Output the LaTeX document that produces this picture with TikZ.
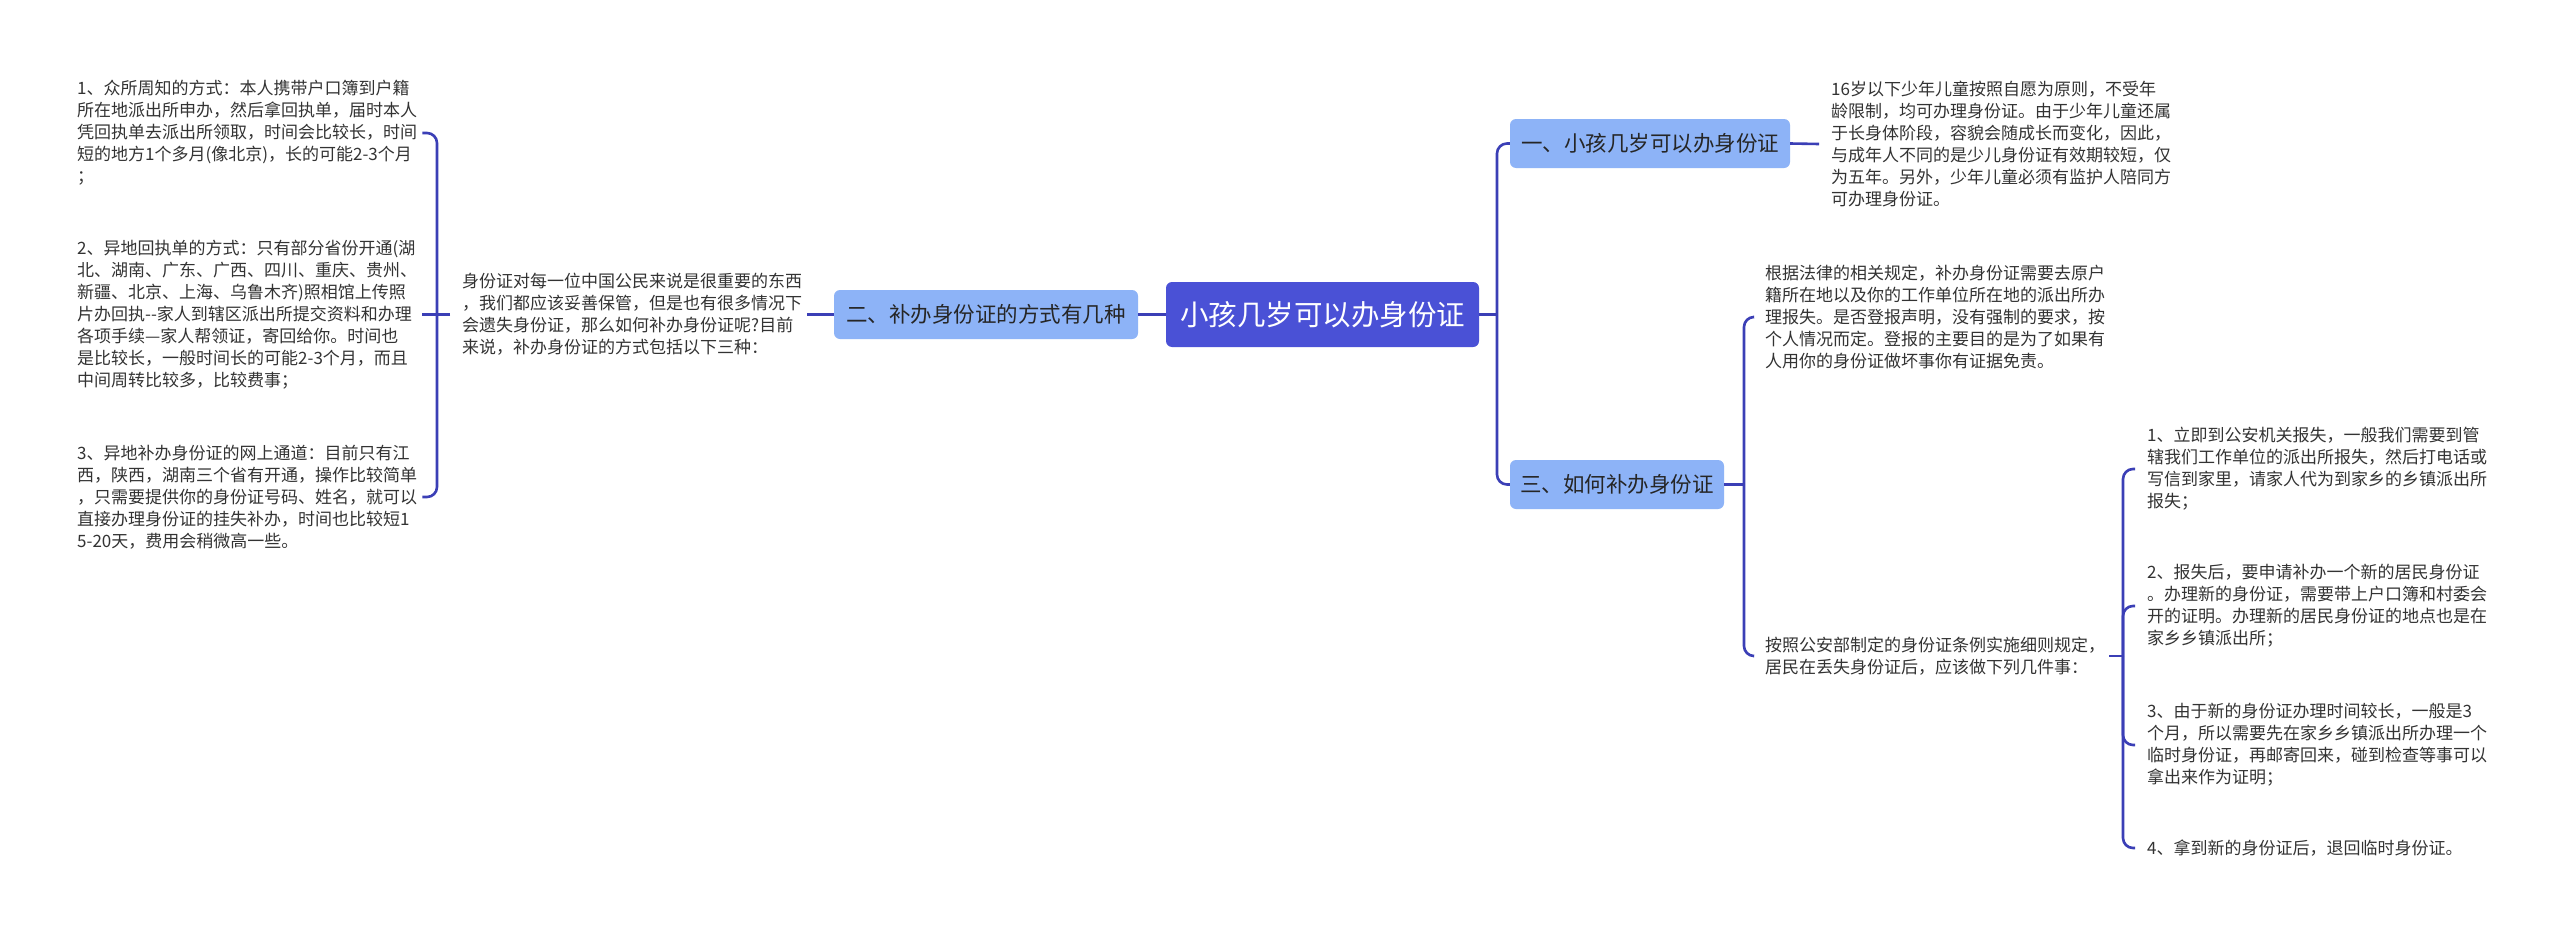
\documentclass[tikz,border=0pt]{standalone}
\usepackage{fontspec}
\newfontfamily\zh{Noto Sans CJK SC}
\definecolor{rootc}{HTML}{4A51D6}
\definecolor{subc}{HTML}{8DB3F7}
\definecolor{linec}{HTML}{3B3FB6}
\definecolor{textc}{HTML}{333333}
\begin{document}
\begin{tikzpicture}[x=1pt,y=-1pt,
  conn/.style={draw=linec, line width=2.6pt, rounded corners=10pt},
  root/.style={fill=rootc, text=white, rounded corners=6pt, font=\zh\fontsize{28.5}{34}\selectfont, minimum width=313pt, minimum height=65pt, inner sep=0pt},
  sub/.style={fill=subc, text=black!85, rounded corners=6pt, font=\zh\fontsize{21.5}{26}\selectfont, minimum height=49pt, inner sep=0pt},
  txt/.style={text=textc, font=\zh\fontsize{17}{22}\selectfont, align=left, inner xsep=12pt, inner ysep=2pt, anchor=west}
]
\fill[white] (0,0) rectangle (2560,937);
\useasboundingbox (0,0) rectangle (2560,937);

% main nodes
\node[root] (c) at (1322.5,314.5) {小孩几岁可以办身份证};
\node[sub, minimum width=280pt] (n1) at (1650,143.5) {一、小孩几岁可以办身份证};
\node[sub, minimum width=214pt] (n3) at (1617,484.5) {三、如何补办身份证};
\node[sub, minimum width=304pt] (n2) at (986,314.5) {二、补办身份证的方式有几种};

% right texts
\node[txt, text width=340pt] (r1) at (1819,144) {16岁以下少年儿童按照自愿为原则，不受年\\龄限制，均可办理身份证。由于少年儿童还属\\于长身体阶段，容貌会随成长而变化，因此，\\与成年人不同的是少儿身份证有效期较短，仅\\为五年。另外，少年儿童必须有监护人陪同方\\可办理身份证。};
\node[txt, text width=330pt] (tA) at (1753,317) {根据法律的相关规定，补办身份证需要去原户\\籍所在地以及你的工作单位所在地的派出所办\\理报失。是否登报声明，没有强制的要求，按\\个人情况而定。登报的主要目的是为了如果有\\人用你的身份证做坏事你有证据免责。};
\node[txt, text width=332pt] (tB) at (1753,656) {按照公安部制定的身份证条例实施细则规定，\\居民在丢失身份证后，应该做下列几件事：};
\node[txt, text width=340pt] (i1) at (2135,469) {1、立即到公安机关报失，一般我们需要到管\\辖我们工作单位的派出所报失，然后打电话或\\写信到家里，请家人代为到家乡的乡镇派出所\\报失；};
\node[txt, text width=340pt] (i2) at (2135,606) {2、报失后，要申请补办一个新的居民身份证\\。办理新的身份证，需要带上户口簿和村委会\\开的证明。办理新的居民身份证的地点也是在\\家乡乡镇派出所；};
\node[txt, text width=340pt] (i3) at (2135,745) {3、由于新的身份证办理时间较长，一般是3\\个月，所以需要先在家乡乡镇派出所办理一个\\临时身份证，再邮寄回来，碰到检查等事可以\\拿出来作为证明；};
\node[txt, text width=340pt] (i4) at (2135,848) {4、拿到新的身份证后，退回临时身份证。};

% left texts
\node[txt, text width=333pt] (t2) at (450,314.5) {身份证对每一位中国公民来说是很重要的东西\\，我们都应该妥善保管，但是也有很多情况下\\会遗失身份证，那么如何补办身份证呢?目前\\来说，补办身份证的方式包括以下三种：};
\node[txt, text width=333pt] (b1) at (65,133) {1、众所周知的方式：本人携带户口簿到户籍\\所在地派出所申办，然后拿回执单，届时本人\\凭回执单去派出所领取，时间会比较长，时间\\\mbox{短的地方1个多月(像北京)，长的可能2-3个月}\\；};
\node[txt, text width=333pt] (b2) at (65,314.5) {2、异地回执单的方式：只有部分省份开通(湖\\北、湖南、广东、广西、四川、重庆、贵州、\\新疆、北京、上海、乌鲁木齐)照相馆上传照\\\mbox{片办回执--家人到辖区派出所提交资料和办理}\\各项手续—家人帮领证，寄回给你。时间也\\\mbox{是比较长，一般时间长的可能2-3个月，而且}\\中间周转比较多，比较费事；};
\node[txt, text width=333pt] (b3) at (65,497) {3、异地补办身份证的网上通道：目前只有江\\西，陕西，湖南三个省有开通，操作比较简单\\，只需要提供你的身份证号码、姓名，就可以\\直接办理身份证的挂失补办，时间也比较短1\\\mbox{5-20天，费用会稍微高一些。}};

% connectors right
\coordinate (tr) at (1497,314.5);
\draw[conn] (c.east) -- (tr);
\draw[conn] (n1.west) -| (tr) |- (n3.west);
\draw[conn] (n1.east) -- (r1.west);
\coordinate (m3) at (1744,484.5);
\draw[conn] (n3.east) -- (m3);
\draw[conn] (tA.west) -| (m3) |- (tB.west);
\coordinate (rv) at (2123,656);
\draw[conn] (tB.east) -- (rv);
\draw[conn] (i1.west) -| (rv) |- (i4.west);
\draw[conn] (rv) |- (i2.west);
\draw[conn] (rv) |- (i3.west);

% connectors left
\draw[conn] (c.west) -- (n2.east);
\draw[conn] (n2.west) -- (t2.east);
\coordinate (lv) at (437,314.5);
\draw[conn] (t2.west) -- (b2.east);
\draw[conn] (b1.east) -| (lv) |- (b3.east);
\end{tikzpicture}
\end{document}
